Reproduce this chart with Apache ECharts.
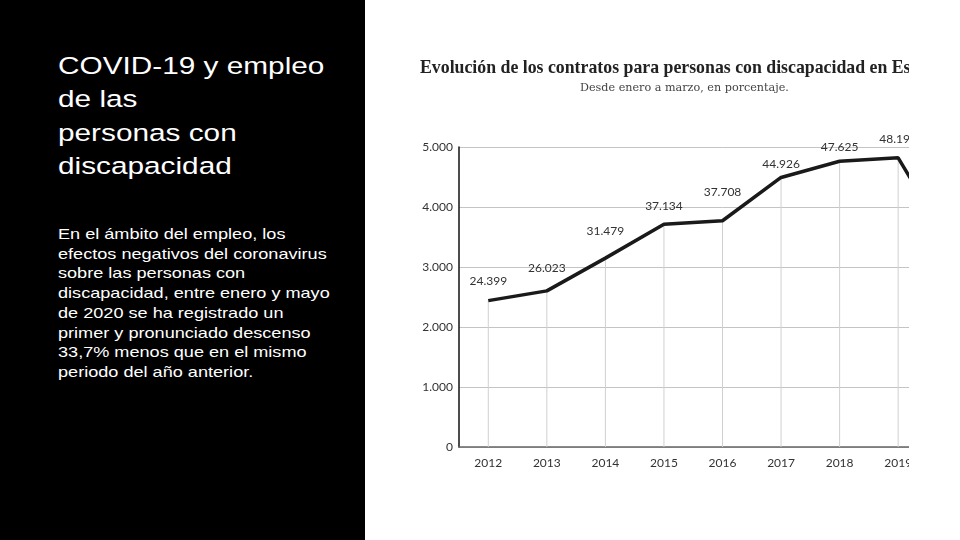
<!DOCTYPE html>
<html>
<head>
<meta charset="utf-8">
<script src="https://cdn.jsdelivr.net/npm/echarts@6/dist/echarts.min.js"></script>
<style>
  html, body { margin: 0; padding: 0; width: 960px; height: 540px; background: #ffffff; overflow: hidden; }
  #left { position: absolute; left: 0; top: 0; width: 365px; height: 540px; background: #000000; overflow: hidden; }
  #heading { position: absolute; left: 58px; top: 49px; color: #ffffff; font-family: "Liberation Sans", Arial, sans-serif; font-size: 24.5px; line-height: 33.3px; white-space: nowrap; transform: scaleX(1.215); transform-origin: 0 0; }
  #para { position: absolute; left: 58px; top: 224px; color: #ffffff; font-family: "Liberation Sans", Arial, sans-serif; font-size: 15px; line-height: 19.7px; white-space: nowrap; transform: scaleX(1.207); transform-origin: 0 0; }
  #clip { position: absolute; left: 365px; top: 0; width: 544px; height: 540px; overflow: hidden; background: #ffffff; }
  #chart { position: absolute; left: 0; top: 0; width: 700px; height: 540px; }
</style>
</head>
<body>
<div id="left">
  <div id="heading">COVID-19 y empleo<br>de las<br>personas con<br>discapacidad</div>
  <div id="para">En el ámbito del empleo, los<br>efectos negativos del coronavirus<br>sobre las personas con<br>discapacidad, entre enero y mayo<br>de 2020 se ha registrado un<br>primer y pronunciado descenso<br>33,7% menos que en el mismo<br>periodo del año anterior.</div>
</div>
<div id="clip"><div id="chart"></div></div>
<script>
// ---- data ----
const chartTitle = 'Evolución de los contratos para personas con discapacidad en España';
const chartSubtitle = 'Desde enero a marzo, en porcentaje.';
const years = ['2012', '2013', '2014', '2015', '2016', '2017', '2018', '2019', '2020'];
const contracts = [24.399, 26.023, 31.479, 37.134, 37.708, 44.926, 47.625, 48.195, 31.9];
const yTickLabels = ['0', '1.000', '2.000', '3.000', '4.000', '5.000'];

// ---- styling helpers (not data) ----
const labelGap = [13, 17, 21, 12, 23, 7, 8, 13, 10];
const labelFont = 'Lato, "Noto Sans", sans-serif';

const chart = echarts.init(document.getElementById('chart'), null, { renderer: 'canvas' });

const lineData = contracts.map((v, i) => ({
  value: v,
  label: { distance: labelGap[i] }
}));

chart.setOption({
  animation: false,
  backgroundColor: '#ffffff',
  title: [
    {
      text: chartTitle,
      left: 55, top: 59, padding: 0,
      textStyle: { fontFamily: '"Liberation Serif", serif', fontWeight: 'bold', fontSize: 17.8, color: '#222222' }
    },
    {
      text: chartSubtitle,
      left: 215, top: 83, padding: 0,
      textStyle: { fontFamily: '"DejaVu Serif", serif', fontWeight: 'normal', fontSize: 11.2, color: '#444444' }
    }
  ],
  grid: {
    left: 94, top: 147, width: 527, height: 300,
    containLabel: false, outerBoundsMode: 'none'
  },
  xAxis: {
    type: 'category',
    data: years,
    boundaryGap: true,
    axisLine: { show: true, lineStyle: { color: '#666666', width: 1.5 } },
    axisTick: { show: false },
    axisLabel: { margin: 10, fontSize: 12, color: '#333333', fontFamily: labelFont },
    splitLine: { show: false }
  },
  yAxis: {
    type: 'value',
    min: 0, max: 50, interval: 10,
    axisLine: { show: true, lineStyle: { color: '#111111', width: 1.5 } },
    axisTick: { show: false },
    axisLabel: {
      margin: 6, fontSize: 12, color: '#333333', fontFamily: labelFont,
      formatter: v => yTickLabels[Math.round(v / 10)]
    },
    splitLine: { show: true, lineStyle: { color: '#c4c4c4', width: 1 } }
  },
  series: [
    {
      type: 'bar',
      data: contracts,
      barWidth: 1,
      itemStyle: { color: '#d0d0d0' },
      z: 1,
      silent: true
    },
    {
      type: 'line',
      data: lineData,
      symbol: 'circle',
      symbolSize: 0.1,
      showSymbol: true,
      itemStyle: { color: '#1a1a1a' },
      lineStyle: { color: '#1a1a1a', width: 3.5 },
      label: {
        show: true,
        position: 'top',
        fontSize: 12,
        color: '#333333',
        fontFamily: labelFont,
        formatter: p => p.value.toFixed(3)
      },
      z: 3
    }
  ]
});
</script>
</body>
</html>
